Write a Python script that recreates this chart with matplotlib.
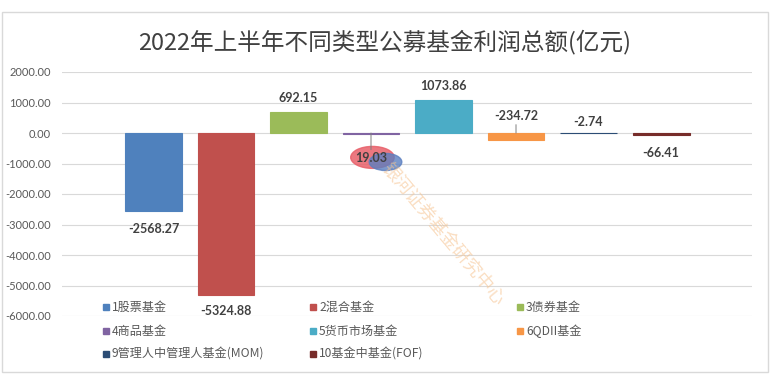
import matplotlib
matplotlib.use("Agg")
import numpy as np
from matplotlib import pyplot as plt
from matplotlib.patches import Rectangle, Ellipse

plt.rcParams['font.family'] = ['Noto Sans CJK SC', 'DejaVu Sans']

# data
names = ['1股票基金', '2混合基金', '3债券基金', '4商品基金',
         '5货币市场基金', '6QDII基金', '9管理人中管理人基金(MOM)', '10基金中基金(FOF)']
profits = [-2568.27, -5324.88, 692.15, -19.03, 1073.86, -234.72, -2.74, -66.41]
label_text = ['-2568.27', '-5324.88', '692.15', '19.03', '1073.86', '-234.72', '-2.74', '-66.41']
yticks = [2000, 1000, 0, -1000, -2000, -3000, -4000, -5000, -6000]

colors = ['#4F81BD', '#C0504D', '#9BBB59', '#8064A2',
          '#4BACC6', '#F79646', '#2C4D75', '#772C2A']
# label offset from the bar end, in points (+ up / - down)
label_off = [-13, -11, 10, -18, 10, 12, 8, -13]
label_base = ['end', 'end', 'end', 'zero', 'end', 'zero', 'zero', 'end']
leader = [False, False, False, True, False, True, False, False]

fig = plt.figure(figsize=(7.81, 3.91), dpi=100)
W, H = 781, 391

# chart frame
fig.patches.append(Rectangle((2 / W, 1 - 372 / H), 766 / W, 360 / H,
                             transform=fig.transFigure, fill=False,
                             edgecolor='#D9D9D9', lw=1.0, zorder=-1))

ax = fig.add_axes([62 / W, 1 - 316 / H, 690 / W, 244 / H])
ax.set_facecolor('none')

x = np.arange(len(profits))
ax.bar(x, profits, width=0.786, color=colors, edgecolor=colors, lw=0.8, zorder=3)

ax.set_xlim(-1.262, 8.255)
ax.set_ylim(-6000, 2000)
ax.set_yticks(yticks)
ax.set_yticklabels(['%.2f' % v for v in yticks], fontsize=8, color='#595959',
                   family=['Lato', 'DejaVu Sans'])
ax.tick_params(axis='y', length=0, pad=8)
ax.set_xticks([])
for s in ax.spines.values():
    s.set_visible(False)
ax.grid(axis='y', color='#D9D9D9', lw=0.8, zorder=0)

for i, v in enumerate(profits):
    base = v if label_base[i] == 'end' else 0
    off = label_off[i]
    ax.annotate(label_text[i], (x[i], base), xytext=(0, off), textcoords='offset points',
                ha='center', va='center', fontsize=9, fontweight='bold',
                color='#404040', family=['Lato', 'DejaVu Sans'], zorder=6)
    if leader[i]:
        end = off + 6 if off < 0 else off - 6
        ax.annotate('', (x[i], 0), xytext=(0, end), textcoords='offset points',
                    arrowprops=dict(arrowstyle='-', color='#7F7F7F', lw=0.7,
                                    shrinkA=0, shrinkB=0), zorder=5)

# watermark logo and text
ax.add_patch(Ellipse((3.02, -800), 0.6, 720, color='#E8606A', alpha=0.85, zorder=4))
ax.add_patch(Ellipse((3.2, -950), 0.45, 560, color='#5B7FC0', alpha=0.8, zorder=4))
fig.text(442 / W, 1 - 235 / H, '银河证券基金研究中心', rotation=-50, fontsize=13,
         color='#F6C28E', alpha=0.55, ha='center', va='center', zorder=2)

# legend, drawn row by row like the Excel one
leg_x = [103, 310, 517]
leg_y = [307, 331, 354]
for k, name in enumerate(names):
    r, c = divmod(k, 3)
    px, py = leg_x[c], leg_y[r]
    fig.patches.append(Rectangle((px / W, 1 - (py + 3) / H), 6 / W, 6 / H,
                                 transform=fig.transFigure, color=colors[k], zorder=5))
    fig.text((px + 9) / W, 1 - py / H, name, fontsize=8.7, color='#595959',
             ha='left', va='center')

fig.text(385 / W, 1 - 42 / H, '2022年上半年不同类型公募基金利润总额(亿元)',
         ha='center', va='center', fontsize=17, color='#404040')

fig.savefig('out.png', dpi=100)
